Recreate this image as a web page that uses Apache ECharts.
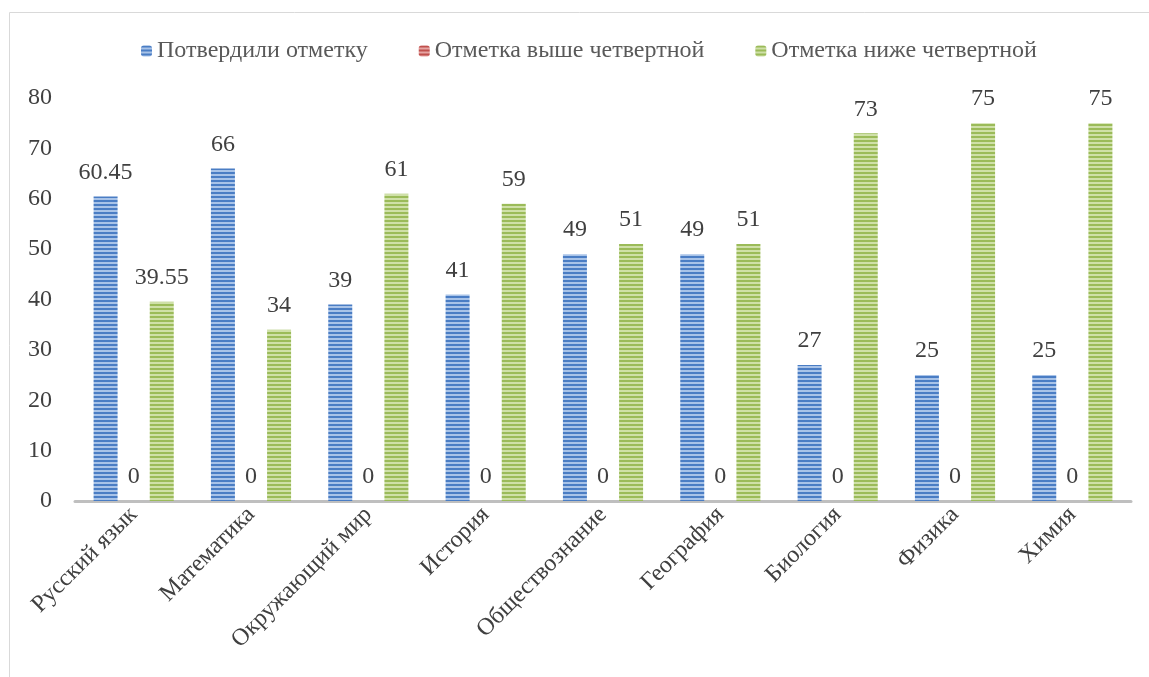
<!DOCTYPE html>
<html>
<head>
<meta charset="utf-8">
<script src="https://cdn.jsdelivr.net/npm/echarts@6/dist/echarts.min.js"></script>
<style>
  html, body { margin: 0; padding: 0; background: #fff; }
  #chart { width: 1149px; height: 677px; }
</style>
</head>
<body>
<div id="chart"></div>
<script>
const categories = ['Русский язык', 'Математика', 'Окружающий мир', 'История', 'Обществознание', 'География', 'Биология', 'Физика', 'Химия']
const confirmed = [60.45, 66, 39, 41, 49, 49, 27, 25, 25]
const higher = [0, 0, 0, 0, 0, 0, 0, 0, 0]
const lower = [39.55, 34, 61, 59, 51, 51, 73, 75, 75]
const seriesNames = ['Потвердили отметку', 'Отметка выше четвертной', 'Отметка ниже четвертной']

// horizontal stripe fill like the office pattern
function stripes(dark, light) {
  const c = document.createElement('canvas')
  c.width = 4
  c.height = 4
  const ctx = c.getContext('2d')
  ctx.fillStyle = light
  ctx.fillRect(0, 0, 4, 4)
  ctx.fillStyle = dark
  ctx.fillRect(0, 0, 4, 2)
  return { image: c, repeat: 'repeat' }
}

const font = 'Liberation Serif'
const labelStyle = {
  show: true,
  position: 'top',
  distance: 12,
  fontFamily: font,
  fontSize: 24,
  color: '#404040'
}

const chart = echarts.init(document.getElementById('chart'))
chart.setOption({
  animation: false,
  graphic: [{
    type: 'rect',
    shape: { x: 9.5, y: 12.5, width: 1200, height: 800 },
    style: { fill: 'none', stroke: '#d9d9d9', lineWidth: 1 },
    silent: true
  }],
  legend: {
    top: 34,
    left: 136,
    itemWidth: 11,
    itemHeight: 11,
    itemGap: 51,
    textStyle: { fontFamily: font, fontSize: 24, color: '#595959' },
    data: seriesNames
  },
  grid: { left: 75, right: 18, top: 98, bottom: 176, containLabel: false },
  xAxis: {
    type: 'category',
    data: categories,
    axisLine: { lineStyle: { color: '#bfbfbf', width: 3 } },
    axisTick: { show: false },
    axisLabel: {
      rotate: 45,
      margin: 10,
      interval: 0,
      fontFamily: font,
      fontSize: 24,
      color: '#404040'
    }
  },
  yAxis: {
    type: 'value',
    min: 0,
    max: 80,
    interval: 10,
    splitLine: { show: false },
    axisLine: { show: false },
    axisTick: { show: false },
    axisLabel: { margin: 23, fontFamily: font, fontSize: 24, color: '#404040' }
  },
  series: [
    {
      name: seriesNames[0],
      type: 'bar',
      data: confirmed,
      barWidth: 24,
      barGap: '17%',
      itemStyle: { color: stripes('#4a7dc4', '#a8c3e8') },
      label: labelStyle
    },
    {
      name: seriesNames[1],
      type: 'bar',
      data: higher,
      barWidth: 24,
      barGap: '17%',
      itemStyle: { color: stripes('#c0504d', '#e6a5a3') },
      label: labelStyle
    },
    {
      name: seriesNames[2],
      type: 'bar',
      data: lower,
      barWidth: 24,
      barGap: '17%',
      itemStyle: { color: stripes('#9bbb59', '#cfe0a8') },
      label: labelStyle
    }
  ]
})
</script>
</body>
</html>
